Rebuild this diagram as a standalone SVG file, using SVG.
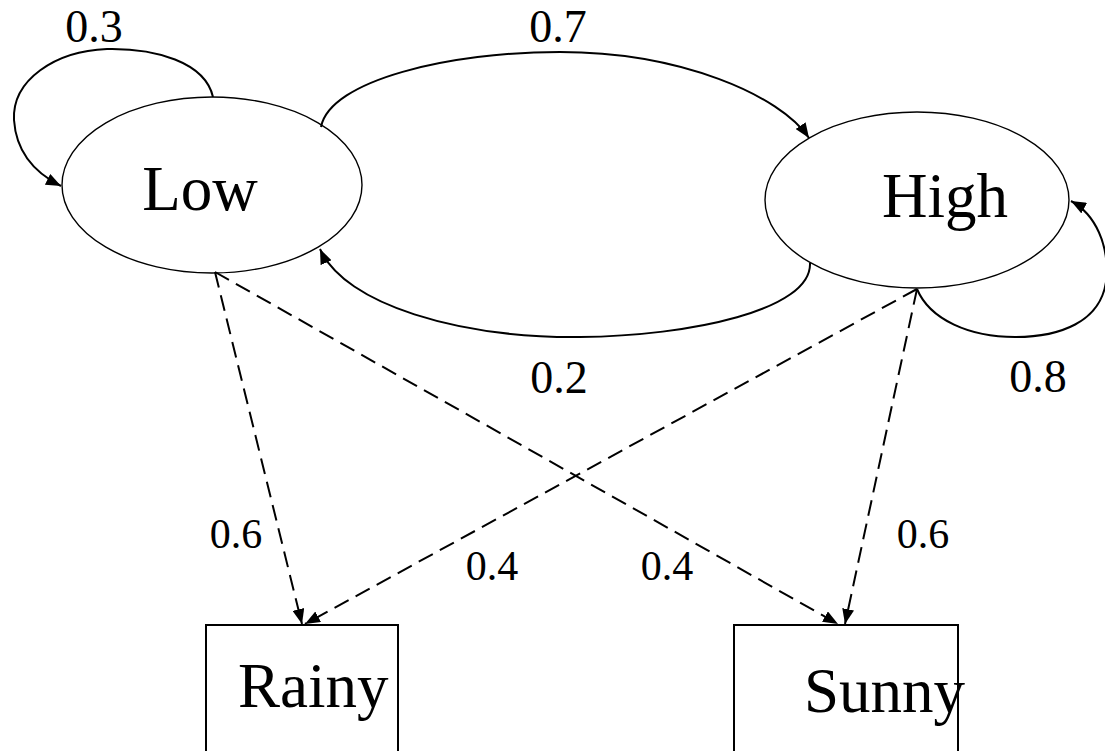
<svg xmlns="http://www.w3.org/2000/svg" width="1105" height="751" viewBox="0 0 1105 751">
<style>
.bg{fill:#fff}
.node{fill:#fff;stroke:#000;stroke-width:1.4}
.box{fill:#fff;stroke:#000;stroke-width:2}
.edge{fill:none;stroke:#000;stroke-width:2}
.dash{fill:none;stroke:#000;stroke-width:2;stroke-dasharray:16 8}
text{font-family:"Liberation Serif","Times New Roman",serif;fill:#000}
.big{font-size:63px}
.lbl{font-size:46px}
.sm{font-size:42px}
</style>
<defs>
<marker id="arr" markerUnits="userSpaceOnUse" markerWidth="16" markerHeight="12" refX="15" refY="6" orient="auto">
<path d="M0,0 L15,6 L0,12 Z" fill="#000"/>
</marker>
</defs>
<rect class="bg" x="0" y="0" width="1105" height="751"/>
<g id="Low">
<ellipse class="node" cx="212" cy="185" rx="150" ry="88"/>
<text class="big" x="200" y="210" text-anchor="middle">Low</text>
</g>
<g id="High">
<ellipse class="node" cx="917" cy="200" rx="152" ry="88"/>
<text class="big" x="945" y="217" text-anchor="middle">High</text>
</g>
<g id="Rainy">
<rect class="box" x="206" y="625" width="192" height="140"/>
<text class="big" x="238" y="707">Rainy</text>
</g>
<g id="Sunny">
<rect class="box" x="734" y="625" width="224" height="140"/>
<text class="big" x="804" y="712" font-size="62">Sunny</text>
</g>
<g id="connectors">
<path class="edge" d="M213,97 C205,62 155,48 107,49 C55,51 12,80 14,120 C16,150 33,172 61,186" marker-end="url(#arr)"/>
<path class="edge" d="M321,127 C330,80 450,52 560,52 C680,52 780,95 809,138" marker-end="url(#arr)"/>
<path class="edge" d="M810,263 C812,310 690,336 580,337 C460,338 345,305 320,249" marker-end="url(#arr)"/>
<path class="edge" d="M917,289 C930,320 970,337 1015,337 C1060,337 1100,322 1106,282 C1110,245 1095,214 1071,201" marker-end="url(#arr)"/>
<line class="dash" x1="215" y1="272" x2="302" y2="624" marker-end="url(#arr)"/>
<line class="dash" x1="215" y1="272" x2="838" y2="624" marker-end="url(#arr)"/>
<line class="dash" x1="917" y1="289" x2="305" y2="624" marker-end="url(#arr)"/>
<line class="dash" x1="917" y1="289" x2="845" y2="624" marker-end="url(#arr)"/>
</g>
<g id="labels">
<text class="lbl" x="94" y="42" text-anchor="middle">0.3</text>
<text class="lbl" x="558" y="42" text-anchor="middle">0.7</text>
<text class="lbl" x="559" y="393" text-anchor="middle">0.2</text>
<text class="lbl" x="1038" y="392" text-anchor="middle">0.8</text>
<text class="sm" x="236" y="548" text-anchor="middle">0.6</text>
<text class="sm" x="492" y="580" text-anchor="middle">0.4</text>
<text class="sm" x="667" y="580" text-anchor="middle">0.4</text>
<text class="sm" x="923" y="548" text-anchor="middle">0.6</text>
</g>
</svg>
